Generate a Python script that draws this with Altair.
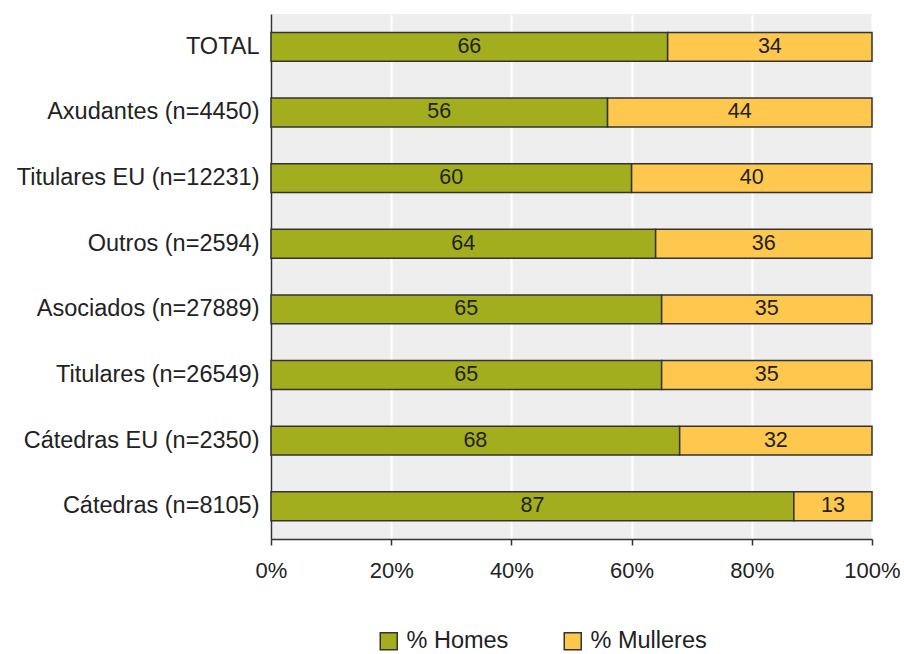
import altair as alt
import pandas as pd

categories = ["TOTAL", "Axudantes (n=4450)", "Titulares EU (n=12231)", "Outros (n=2594)",
              "Asociados (n=27889)", "Titulares (n=26549)", "Cátedras EU (n=2350)", "Cátedras (n=8105)"]
homes = [66, 56, 60, 64, 65, 65, 68, 87]
mulleres = [34, 44, 40, 36, 35, 35, 32, 13]
series = ["% Homes", "% Mulleres"]
colors = ["#a3ae1f", "#fec74d"]
x_ticks = [0, 20, 40, 60, 80, 100]

rows = []
for c, h, m in zip(categories, homes, mulleres):
    rows.append({"cat": c, "serie": series[0], "v": h, "start": 0, "end": h, "order": 0})
    rows.append({"cat": c, "serie": series[1], "v": m, "start": h, "end": h + m, "order": 1})
df = pd.DataFrame(rows)
df["mid"] = (df["start"] + df["end"]) / 2

FONT = "Liberation Sans"

y_enc = alt.Y("cat:N", sort=categories, title=None,
              scale=alt.Scale(paddingInner=0.56, paddingOuter=0.28),
              axis=alt.Axis(ticks=False, domain=True, domainColor="#333333", domainWidth=1.5,
                            labelFontSize=23.5, labelColor="#222222", labelPadding=12,
                            labelFont=FONT, grid=False, labelLimit=400))

bars = alt.Chart(df).mark_bar(stroke="#333333", strokeWidth=1.5).encode(
    x=alt.X("start:Q", scale=alt.Scale(domain=[0, 100], nice=False),
            title=None,
            axis=alt.Axis(values=x_ticks, labelExpr="datum.value + '%'",
                          grid=True, gridColor="#ffffff", gridWidth=2,
                          domainColor="#333333", domainWidth=1.5,
                          tickColor="#333333", tickWidth=1.5, tickSize=6,
                          labelFontSize=22, labelColor="#222222", labelFont=FONT,
                          labelPadding=15, labelFlush=False, labelOverlap=False)),
    x2="end:Q",
    y=y_enc,
    color=alt.Color("serie:N", scale=alt.Scale(domain=series, range=colors), title=None,
                    legend=alt.Legend(orient="none", legendX=106, legendY=615,
                                      direction="horizontal", symbolType="square",
                                      symbolSize=289, symbolStrokeColor="#333333",
                                      symbolStrokeWidth=1.5, labelFontSize=23.5,
                                      labelFont=FONT, labelColor="#222222",
                                      labelOffset=6, columnPadding=52, padding=0)),
)

texts = alt.Chart(df).mark_text(fontSize=21.5, font=FONT, color="#222222", baseline="middle").encode(
    x=alt.X("mid:Q"),
    y=alt.Y("cat:N", sort=categories),
    text=alt.Text("v:Q"),
)

chart = alt.layer(bars, texts).properties(
    width=601, height=525,
    autosize=alt.AutoSizeParams(type="none"),
    padding={"left": 271, "top": 14, "right": 32, "bottom": 115},
).configure_view(fill="#eeeeee", stroke=None)

chart.save("out.html", embed_options={"renderer": "svg", "actions": False})
